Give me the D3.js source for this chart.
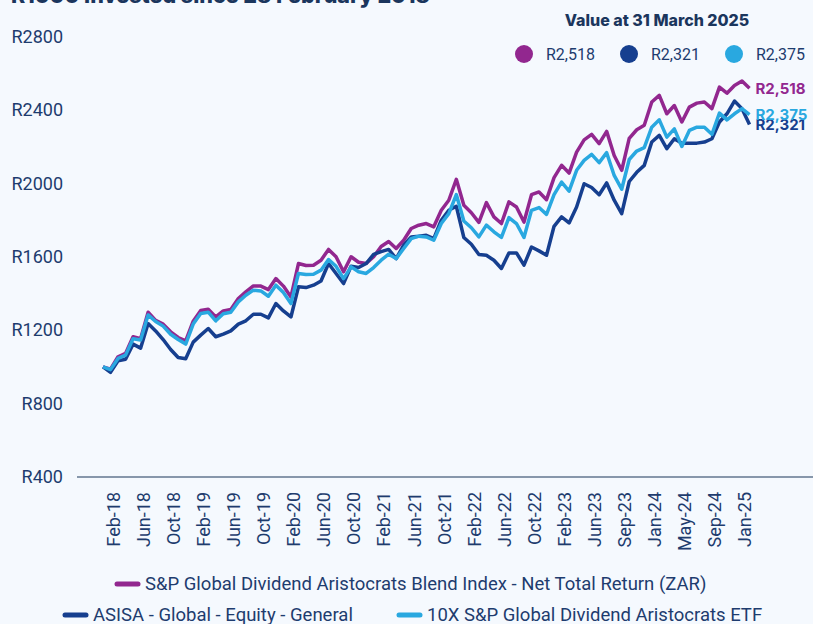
<!DOCTYPE html>
<html><head><meta charset="utf-8">
<script src="https://cdn.jsdelivr.net/npm/d3@7"></script>
<style>body{margin:0;background:#F5F9FE;} svg{display:block}</style>
</head><body><svg id="c" width="813" height="624"></svg>
<script>
const title = "R1000 invested since 28 February 2018";
const valueTitle = "Value at 31 March 2025";
const xTickLabels = ["Feb-18","Jun-18","Oct-18","Feb-19","Jun-19","Oct-19","Feb-20","Jun-20","Oct-20","Feb-21","Jun-21","Oct-21","Feb-22","Jun-22","Oct-22","Feb-23","Jun-23","Sep-23","Jan-24","May-24","Sep-24","Jan-25"];
const yTicks = [400,800,1200,1600,2000,2400,2800];
const seriesNames = ["S&P Global Dividend Aristocrats Blend Index - Net Total Return (ZAR)","ASISA - Global - Equity - General","10X S&P Global Dividend Aristocrats ETF"];
const seriesColors = ["#92278F","#163F8F","#29A8E0"];
const finalLabels = ["R2,518","R2,321","R2,375"];
const indexValues = [1000,988,1055,1073,1164,1153,1298,1253,1233,1191,1160,1142,1249,1307,1314,1272,1305,1313,1372,1409,1441,1440,1421,1481,1440,1381,1563,1552,1554,1581,1640,1600,1518,1600,1570,1563,1600,1656,1683,1645,1690,1754,1772,1781,1763,1853,1908,2022,1880,1840,1787,1895,1817,1781,1899,1871,1789,1938,1953,1911,2031,2098,2056,2170,2237,2267,2216,2283,2152,2071,2245,2292,2316,2443,2479,2379,2424,2334,2415,2437,2443,2407,2524,2491,2533,2557,2518];
const fundValues = [1000,970,1033,1042,1124,1102,1236,1196,1149,1095,1051,1044,1135,1173,1209,1164,1178,1196,1233,1251,1287,1287,1267,1345,1305,1272,1436,1432,1445,1468,1563,1509,1454,1548,1541,1563,1613,1628,1640,1590,1663,1708,1712,1717,1699,1799,1853,1875,1705,1668,1612,1608,1581,1536,1621,1621,1554,1653,1632,1608,1766,1817,1784,1871,1998,1977,1938,2002,1908,1835,2010,2060,2098,2225,2261,2189,2243,2219,2219,2219,2225,2243,2334,2379,2448,2407,2321];
const etfValues = [1000,985,1046,1064,1153,1146,1283,1247,1222,1178,1149,1124,1233,1291,1298,1251,1289,1298,1354,1390,1418,1414,1385,1445,1405,1345,1509,1503,1505,1527,1585,1548,1481,1545,1518,1509,1541,1581,1614,1590,1645,1699,1712,1708,1690,1781,1835,1939,1795,1758,1708,1772,1736,1705,1813,1781,1705,1853,1868,1831,1938,2007,1958,2071,2125,2158,2113,2167,2043,1968,2130,2176,2194,2306,2346,2252,2297,2201,2288,2306,2306,2267,2383,2346,2379,2407,2375];

const series = [indexValues, fundValues, etfValues];
const navy = "#1E3C6E";
const svg = d3.select("#c");
const n = indexValues.length;
const x = d3.scaleLinear().domain([0, n - 1]).range([103, 749.5]);
const y = d3.scaleLinear().domain([400, 2800]).range([477, 36.5]);

// title (cut off at top)
svg.append("text").attr("x", 11).attr("y", 3).attr("font-family", "Inter, sans-serif")
  .attr("font-weight", 800).attr("font-size", 21.5).attr("fill", "#1B365D").text(title);

// y labels
svg.append("g").selectAll("text").data(yTicks).join("text")
  .attr("x", 63).attr("y", d => y(d)).attr("dy", "0.35em").attr("text-anchor", "end")
  .attr("font-family", "Roboto, sans-serif").attr("font-size", 18).attr("fill", navy)
  .text(d => "R" + d);

// x axis line
svg.append("line").attr("x1", 77).attr("x2", 813).attr("y1", 477).attr("y2", 477)
  .attr("stroke", "#62768F").attr("stroke-width", 1.3);

// x labels
svg.append("g").selectAll("text").data(xTickLabels).join("text")
  .attr("transform", (d, i) => `translate(${x(1 + 4 * i) + 3},492) rotate(-90)`)
  .attr("dy", "0.35em").attr("text-anchor", "end")
  .attr("font-family", "Roboto, sans-serif").attr("font-size", 18).attr("fill", navy)
  .text(d => d);

// lines
const line = d3.line().x((d, i) => x(i)).y(d => y(d));
[0, 1, 2].forEach(k => {
  svg.append("path").datum(series[k]).attr("d", line).attr("fill", "none")
    .attr("stroke", seriesColors[k]).attr("stroke-width", 3.5).attr("stroke-linejoin", "round");
});

// end labels
[0, 1, 2].forEach(k => {
  const v = series[k][n - 1];
  svg.append("text").attr("x", x(n - 1) + 6).attr("y", y(v)).attr("dy", "0.35em")
    .attr("font-family", "Inter, sans-serif").attr("font-weight", 700).attr("font-size", 15)
    .attr("fill", seriesColors[k]).text(finalLabels[k]);
});

// top-right value legend
svg.append("text").attr("x", 657).attr("y", 20).attr("dy", "0.35em").attr("text-anchor", "middle")
  .attr("font-family", "Inter, sans-serif").attr("font-weight", 800).attr("font-size", 16)
  .attr("fill", "#1B365D").text(valueTitle);
const topX = [524, 629, 734];
[0, 1, 2].forEach(k => {
  svg.append("circle").attr("cx", topX[k]).attr("cy", 54).attr("r", 9).attr("fill", seriesColors[k]);
  svg.append("text").attr("x", topX[k] + 22).attr("y", 54).attr("dy", "0.35em")
    .attr("font-family", "Roboto, sans-serif").attr("font-size", 16).attr("fill", navy).text(finalLabels[k]);
});

// bottom legend
const legPos = [[115, 584], [63, 615], [397, 615]];
[0, 1, 2].forEach(k => {
  const [lx, ly] = legPos[k];
  svg.append("line").attr("x1", lx + 2).attr("x2", lx + 23).attr("y1", ly).attr("y2", ly)
    .attr("stroke", seriesColors[k]).attr("stroke-width", 5).attr("stroke-linecap", "round");
  svg.append("text").attr("x", lx + 30).attr("y", ly).attr("dy", "0.35em")
    .attr("font-family", "Roboto, sans-serif").attr("font-size", 18.5).attr("fill", navy).text(seriesNames[k]);
});
</script></body></html>
